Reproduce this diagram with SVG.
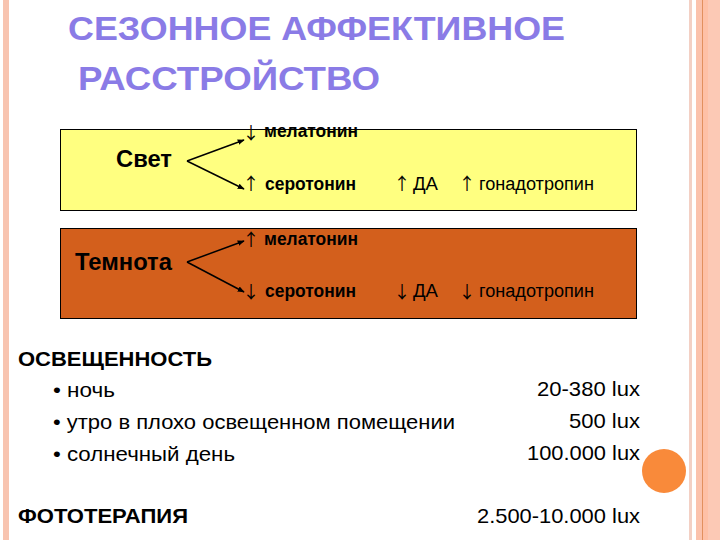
<svg xmlns="http://www.w3.org/2000/svg" width="720" height="540" viewBox="0 0 720 540">
<defs>
<marker id="ah" viewBox="0 0 10 10" refX="9" refY="5" markerWidth="7" markerHeight="7" orient="auto" markerUnits="userSpaceOnUse"><path d="M0,1 L10,5 L0,9 z" fill="#000"/></marker>
<style>
text{font-family:"Liberation Sans",Arial,sans-serif;fill:#000}
.title{font-size:34px;font-weight:bold;fill:#8A7BE6}
.big{font-size:23px;font-weight:bold}
.b16{font-size:18px;font-weight:bold}
.r16{font-size:18px}
.arr{font-family:"Noto Sans CJK SC","DejaVu Sans",sans-serif;font-size:17px;text-anchor:middle}
.h{font-size:20px;font-weight:bold}
.t{font-size:21px}
.conn{stroke:#000;stroke-width:1.5;fill:none;marker-end:url(#ah)}
.box{stroke:#000;stroke-width:1}
</style>
</defs>
<rect width="720" height="540" fill="#fff"/>
<rect x="3" y="0" width="6" height="540" fill="#F8C4B0"/>
<rect x="689" y="0" width="3" height="540" fill="#F3D0C4"/>
<rect x="696" y="0" width="24" height="540" fill="#FCC9B5"/>
<rect x="696" y="0" width="6" height="540" fill="#FBC2AC"/>
<rect x="702" y="0" width="1" height="540" fill="#E2905E"/>
<rect x="703" y="0" width="5" height="540" fill="#FEC0A6"/>
<circle cx="664" cy="471" r="22" fill="#F98A3A"/>
<text class="title" x="68" y="40" textLength="497" lengthAdjust="spacingAndGlyphs">СЕЗОННОЕ АФФЕКТИВНОЕ</text>
<text class="title" x="78" y="90" textLength="302" lengthAdjust="spacingAndGlyphs">РАССТРОЙСТВО</text>
<g id="light">
<rect class="box" x="60.5" y="129.5" width="576" height="81" fill="#FFFF80"/>
<text class="big" x="116" y="167" textLength="56" lengthAdjust="spacingAndGlyphs">Свет</text>
<text class="arr" x="251" y="139">↓</text>
<text class="b16" x="264" y="137" textLength="94" lengthAdjust="spacingAndGlyphs">мелатонин</text>
<text class="arr" x="251" y="190">↑</text>
<text class="b16" x="265" y="190" textLength="91" lengthAdjust="spacingAndGlyphs">серотонин</text>
<text class="arr" x="402" y="190">↑</text>
<text class="r16" x="413" y="190" textLength="25" lengthAdjust="spacingAndGlyphs">ДА</text>
<text class="arr" x="467" y="190">↑</text>
<text class="r16" x="479" y="190" textLength="115" lengthAdjust="spacingAndGlyphs">гонадотропин</text>
</g>
<g id="dark">
<rect class="box" x="60.5" y="228.5" width="576" height="90" fill="#D35F1C"/>
<text class="big" x="75" y="270" textLength="97" lengthAdjust="spacingAndGlyphs">Темнота</text>
<text class="arr" x="251" y="246">↑</text>
<text class="b16" x="264" y="245" textLength="94" lengthAdjust="spacingAndGlyphs">мелатонин</text>
<text class="arr" x="251" y="298">↓</text>
<text class="b16" x="265" y="297" textLength="91" lengthAdjust="spacingAndGlyphs">серотонин</text>
<text class="arr" x="402" y="298">↓</text>
<text class="r16" x="413" y="297" textLength="25" lengthAdjust="spacingAndGlyphs">ДА</text>
<text class="arr" x="467" y="298">↓</text>
<text class="r16" x="479" y="297" textLength="115" lengthAdjust="spacingAndGlyphs">гонадотропин</text>
</g>
<g id="connectors">
<path class="conn" d="M187,161 L244,140"/>
<path class="conn" d="M187,161 L244,189"/>
<path class="conn" d="M187,262 L244,241"/>
<path class="conn" d="M187,262 L244,292"/>
</g>
<g id="illum">
<text class="h" x="18" y="366" textLength="194" lengthAdjust="spacingAndGlyphs">ОСВЕЩЕННОСТЬ</text>
<text class="t" x="53" y="397" textLength="62" lengthAdjust="spacingAndGlyphs">• ночь</text>
<text class="t" x="53" y="429" textLength="402" lengthAdjust="spacingAndGlyphs">• утро в плохо освещенном помещении</text>
<text class="t" x="53" y="461" textLength="182" lengthAdjust="spacingAndGlyphs">• солнечный день</text>
<text class="t" x="537" y="396" textLength="103" lengthAdjust="spacingAndGlyphs">20-380 lux</text>
<text class="t" x="569" y="428" textLength="71" lengthAdjust="spacingAndGlyphs">500 lux</text>
<text class="t" x="527" y="460" textLength="113" lengthAdjust="spacingAndGlyphs">100.000 lux</text>
<text class="h" x="18" y="523" textLength="170" lengthAdjust="spacingAndGlyphs">ФОТОТЕРАПИЯ</text>
<text class="t" x="477" y="523" textLength="163" lengthAdjust="spacingAndGlyphs">2.500-10.000 lux</text>
</g>
</svg>
